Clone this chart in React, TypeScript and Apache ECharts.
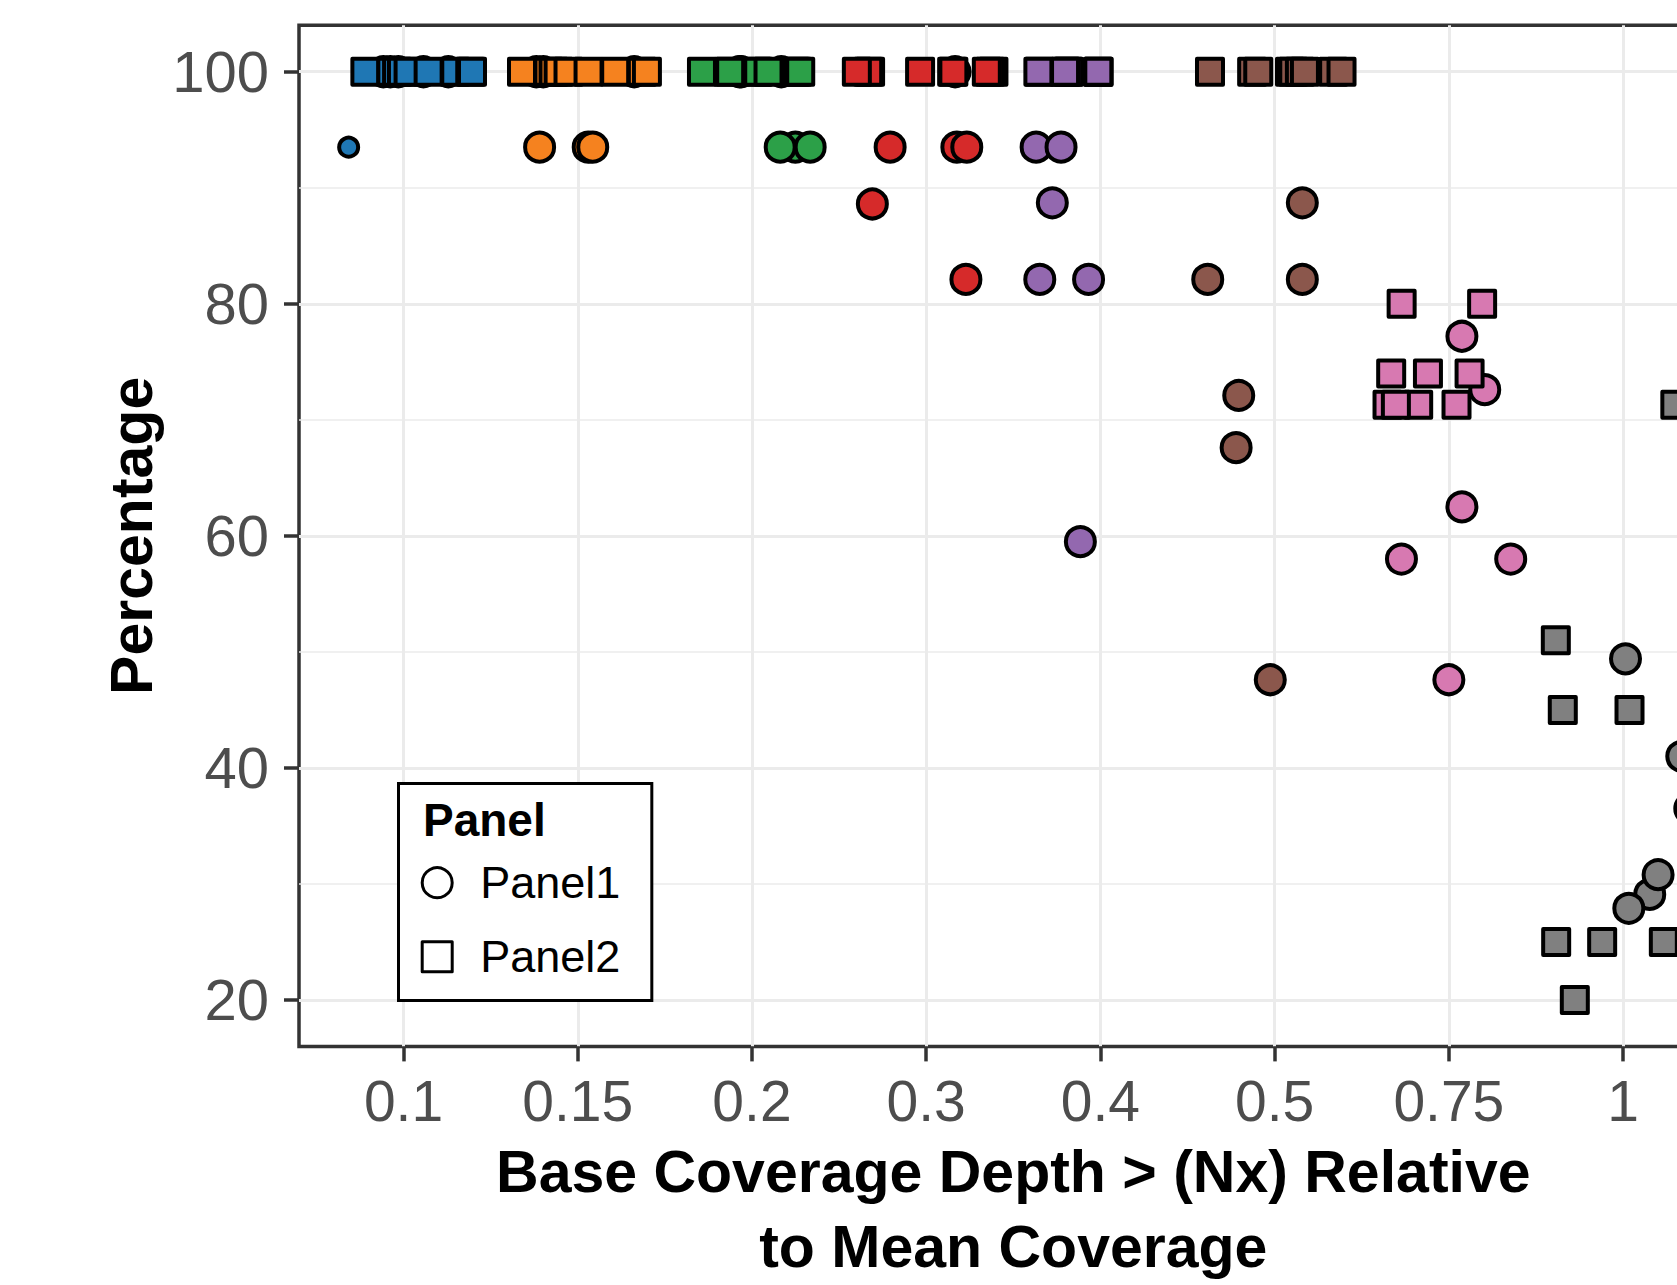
import React, { useEffect, useRef } from "react";
import * as echarts from "echarts";

// ---- data -------------------------------------------------------------
const X_LABELS = ["0.1", "0.15", "0.2", "0.3", "0.4", "0.5", "0.75", "1"];
const X_TICKS = [1, 2, 3, 4, 5, 6, 7, 8];
const Y_TICKS = [20, 40, 60, 80, 100];
const CATEGORY_COLORS = [
  "#1F77B4",
  "#F5821F",
  "#2CA048",
  "#D62A2A",
  "#9368AF",
  "#8B574C",
  "#D779B1",
  "#808080",
];

// Panel1 (circles): category index (1-based), horizontal jitter, percentage
const PANEL1_CATEGORY = [
  1, 1, 1, 1, 1, 1,
  2, 2, 2, 2, 2, 2,
  3, 3, 3, 3, 3, 3,
  4, 4, 4, 4, 4, 4,
  5, 5, 5, 5, 5, 5,
  6, 6, 6, 6, 6, 6,
  7, 7, 7, 7, 7, 7,
  8, 8, 8, 8, 8, 8,
];
const PANEL1_JITTER = [
  -0.315, -0.116, -0.076, -0.03, 0.114, 0.257,
  -0.238, -0.198, 0.324, -0.219, 0.06, 0.086,
  -0.073, -0.062, 0.168, 0.249, 0.162, 0.334,
  0.166, -0.207, 0.176, 0.233, -0.309, 0.228,
  -0.369, -0.226, -0.276, -0.348, -0.068, -0.115,
  0.159, -0.384, 0.159, -0.206, -0.221, -0.025,
  0.075, 0.206, 0.075, -0.272, 0.355, 0.0,
  0.014, 0.337, 0.383, 0.153, 0.201, 0.033,
];
const PANEL1_PERCENT = [
  93.5, 100, 100, 100, 100, 100,
  100, 100, 100, 93.5, 93.5, 93.5,
  100, 100, 100, 93.5, 93.5, 93.5,
  100, 93.5, 93.5, 93.5, 88.6, 82.1,
  93.5, 93.5, 88.7, 82.1, 82.1, 59.5,
  88.7, 82.1, 82.1, 72.1, 67.6, 47.6,
  77.2, 72.6, 62.5, 58.0, 58.0, 47.6,
  49.4, 41.0, 36.5, 29.1, 30.8, 27.9,
];

// Panel2 (squares)
const PANEL2_CATEGORY = [
  1, 1, 1, 1, 1, 1, 1, 1, 1,
  2, 2, 2, 2, 2, 2, 2, 2, 2,
  3, 3, 3, 3, 3, 3, 3, 3, 3,
  4, 4, 4, 4, 4, 4, 4, 4, 4,
  5, 5, 5, 5, 5, 5, 5, 5, 5,
  6, 6, 6, 6, 6, 6, 6, 6, 6,
  7, 7, 7, 7, 7, 7, 7, 7, 7,
  8, 8, 8, 8, 8, 8, 8, 8,
];
const PANEL2_JITTER = [
  -0.219, -0.07, -0.037, -0.009, 0.029, 0.144, 0.297, 0.383, 0.393,
  -0.32, -0.168, -0.139, -0.11, -0.053, 0.062, 0.215, 0.368, 0.397,
  -0.287, -0.135, -0.125, 0.028, 0.036, 0.095, 0.248, 0.259, 0.277,
  -0.322, -0.333, -0.398, -0.035, 0.149, 0.156, 0.386, 0.367, 0.348,
  -0.35, -0.2, -0.185, -0.18, -0.015, -0.01, -0.356, -0.203, -0.012,
  -0.371, -0.129, -0.094, 0.088, 0.107, 0.145, 0.174, 0.336, 0.384,
  -0.271, 0.191, -0.331, -0.12, 0.119, -0.352, -0.176, -0.304, 0.044,
  0.3, -0.386, -0.346, 0.037, -0.384, -0.12, 0.234, -0.277,
];
const PANEL2_PERCENT = [
  100, 100, 100, 100, 100, 100, 100, 100, 100,
  100, 100, 100, 100, 100, 100, 100, 100, 100,
  100, 100, 100, 100, 100, 100, 100, 100, 100,
  100, 100, 100, 100, 100, 100, 100, 100, 100,
  100, 100, 100, 100, 100, 100, 100, 100, 100,
  100, 100, 100, 100, 100, 100, 100, 100, 100,
  80, 80, 74, 74, 74, 71.3, 71.3, 71.3, 71.3,
  71.3, 51, 45, 45, 25, 25, 25, 20,
];

// ---- chart --------------------------------------------------------------
const FONT = '"Liberation Sans", Arial, Helvetica, sans-serif';
const CHART_W = 1740;
const CHART_H = 1285;

function buildData(cats: number[], jit: number[], pct: number[]) {
  return cats.map((c, i) => [c + jit[i], pct[i], c - 1]);
}

export default function App() {
  const ref = useRef<HTMLDivElement>(null);

  useEffect(() => {
    if (!ref.current) return;
    const chart = echarts.init(ref.current, null, { renderer: "svg" });

    const colorFn = (p: any) => CATEGORY_COLORS[p.value[2]];

    const option: any = {
      animation: false,
      backgroundColor: "#ffffff",
      grid: {
        left: 299,
        right: CHART_W - 1727.6,
        top: 25.3,
        bottom: CHART_H - 1046.4,
        show: true,
        backgroundColor: "#ffffff",
        borderColor: "#333333",
        borderWidth: 3.5,
        containLabel: false,
        outerBoundsMode: "none",
      },
      xAxis: {
        type: "value",
        min: 0.4,
        max: 8.6,
        axisLine: { show: false },
        axisTick: {
          show: true,
          length: 15,
          customValues: X_TICKS,
          lineStyle: { color: "#333333", width: 3.5 },
        },
        axisLabel: {
          customValues: X_TICKS,
          formatter: (v: number) => X_LABELS[Math.round(v) - 1] ?? "",
          color: "#4D4D4D",
          fontSize: 57,
          fontFamily: FONT,
          lineHeight: 57,
          margin: 26,
        },
        splitLine: { show: true, lineStyle: { color: "#EBEBEB", width: 3 } },
        minorSplitLine: { show: false },
        name: "Base Coverage Depth > (Nx) Relative\nto Mean Coverage",
        nameLocation: "middle",
        nameGap: 88,
        nameMoveOverlap: false,
        nameTextStyle: {
          fontSize: 59,
          fontWeight: "bold",
          color: "#000000",
          fontFamily: FONT,
          lineHeight: 75,
        },
      },
      yAxis: {
        type: "value",
        min: 16,
        max: 104,
        axisLine: { show: false },
        axisTick: {
          show: true,
          length: 15,
          customValues: Y_TICKS,
          lineStyle: { color: "#333333", width: 3.5 },
        },
        axisLabel: {
          customValues: Y_TICKS,
          color: "#4D4D4D",
          fontSize: 58,
          fontFamily: FONT,
          lineHeight: 58,
          margin: 30,
        },
        splitLine: { show: true, lineStyle: { color: "#EBEBEB", width: 3 } },
        minorTick: { show: false, splitNumber: 2 },
        minorSplitLine: { show: true, lineStyle: { color: "#EBEBEB", width: 1.5 } },
        name: "Percentage",
        nameLocation: "middle",
        nameGap: 138,
        nameMoveOverlap: false,
        nameTextStyle: {
          fontSize: 59,
          fontWeight: "bold",
          color: "#000000",
          fontFamily: FONT,
          lineHeight: 59,
        },
      },
      legend: {
        show: true,
        orient: "vertical",
        left: 398.5,
        top: 783.5,
        padding: [76.7, 31.5, 21.3, 22.2],
        itemWidth: 30,
        itemHeight: 30,
        itemGap: 29,
        borderColor: "#000000",
        borderWidth: 3,
        backgroundColor: "#ffffff",
        selectedMode: false,
        textStyle: {
          fontSize: 45,
          fontFamily: FONT,
          color: "#000000",
          lineHeight: 30,
          padding: [0, 0, 0, 23],
        },
        data: [
          {
            name: "Panel1",
            icon: "circle",
            itemStyle: { color: "rgba(0,0,0,0)", borderColor: "#000000", borderWidth: 3 },
          },
          {
            name: "Panel2",
            icon: "rect",
            itemStyle: { color: "rgba(0,0,0,0)", borderColor: "#000000", borderWidth: 3 },
          },
        ],
      },
      graphic: [
        {
          type: "text",
          x: 423,
          y: 820,
          z: 100,
          style: {
            text: "Panel",
            fontSize: 46,
            fontWeight: "bold",
            fontFamily: FONT,
            fill: "#000000",
            align: "left",
            verticalAlign: "middle",
          },
        },
      ],
      series: [
        {
          name: "Panel1",
          type: "scatter",
          symbol: "circle",
          symbolSize: (_v: any, p: any) => (p.dataIndex === 0 ? 19 : 29),
          data: buildData(PANEL1_CATEGORY, PANEL1_JITTER, PANEL1_PERCENT),
          itemStyle: { color: colorFn, borderColor: "#000000", borderWidth: 4, opacity: 1 },
          emphasis: { disabled: true },
          z: 3,
        },
        {
          name: "Panel2",
          type: "scatter",
          symbol: "rect",
          symbolSize: 26,
          data: buildData(PANEL2_CATEGORY, PANEL2_JITTER, PANEL2_PERCENT),
          itemStyle: {
            color: colorFn,
            borderColor: "#000000",
            borderWidth: 4,
            borderJoin: "round",
            opacity: 1,
          },
          emphasis: { disabled: true },
          z: 4,
        },
      ],
    };

    chart.setOption(option);
    return () => chart.dispose();
  }, []);

  return (
    <div
      style={{
        position: "fixed",
        left: 0,
        top: 0,
        width: 1677,
        height: 1285,
        overflow: "hidden",
        background: "#ffffff",
      }}
    >
      <div ref={ref} style={{ width: CHART_W, height: CHART_H }} />
    </div>
  );
}
